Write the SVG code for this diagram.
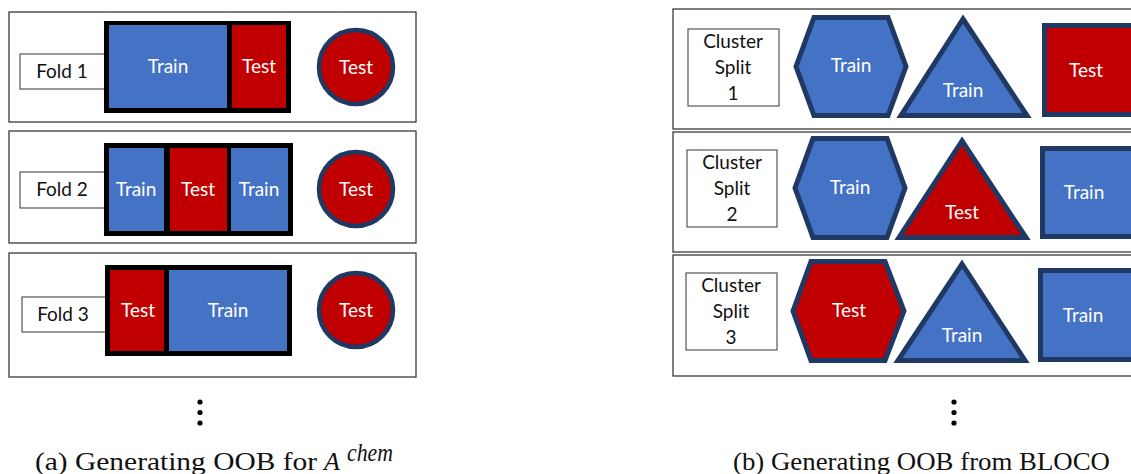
<svg xmlns="http://www.w3.org/2000/svg" width="1131" height="474" viewBox="0 0 1131 474">
<style>
.frame{fill:#fff;stroke:#3a3a3a;stroke-width:1.3}
.lbl{fill:#fff;stroke:#555;stroke-width:1.2}
.blue{fill:#4472C4}
.red{fill:#C00000}
.blk{fill:#000}
.nb{stroke:#1F3864;stroke-width:5;stroke-linejoin:miter}
.circ{fill:#C00000;stroke:#1F3864;stroke-width:4.5}
.t{font-family:Lato,"Open Sans",sans-serif;font-size:19px;text-anchor:middle}
.w{fill:#fff}
.d{fill:#111}
.cap{font-family:"Liberation Serif","DejaVu Serif",serif;font-size:26px;fill:#111}
.dot{fill:#000}
</style>
<rect width="1131" height="474" fill="#fff"/>

<!-- Left panel (a) -->
<g id="fold1">
  <rect class="frame" x="9" y="12" width="407" height="110"/>
  <rect class="lbl" x="20" y="54" width="85" height="35"/>
  <text class="t d" x="62" y="78">Fold 1</text>
  <rect class="blk" x="104" y="21" width="187" height="92"/>
  <rect class="blue" x="109" y="25" width="118" height="83"/>
  <rect class="red" x="232" y="25" width="54" height="83"/>
  <text class="t w" x="168" y="73">Train</text>
  <text class="t w" x="259" y="73">Test</text>
  <circle class="circ" cx="356" cy="67" r="37"/>
  <text class="t w" x="356" y="74">Test</text>
</g>
<g id="fold2">
  <rect class="frame" x="9" y="131" width="407" height="112"/>
  <rect class="lbl" x="20" y="172" width="85" height="36"/>
  <text class="t d" x="62" y="196">Fold 2</text>
  <rect class="blk" x="104" y="143" width="189" height="93"/>
  <rect class="blue" x="109" y="148" width="55" height="83"/>
  <rect class="red" x="170" y="148" width="57" height="83"/>
  <rect class="blue" x="231" y="148" width="57" height="83"/>
  <text class="t w" x="136" y="196">Train</text>
  <text class="t w" x="198" y="196">Test</text>
  <text class="t w" x="259" y="196">Train</text>
  <circle class="circ" cx="356" cy="189" r="37"/>
  <text class="t w" x="356" y="196">Test</text>
</g>
<g id="fold3">
  <rect class="frame" x="9" y="253" width="407" height="124"/>
  <rect class="lbl" x="22" y="297" width="84" height="35"/>
  <text class="t d" x="63" y="321">Fold 3</text>
  <rect class="blk" x="105" y="265" width="187" height="91"/>
  <rect class="red" x="110" y="270" width="54" height="81"/>
  <rect class="blue" x="169" y="270" width="118" height="81"/>
  <text class="t w" x="138" y="317">Test</text>
  <text class="t w" x="228" y="317">Train</text>
  <circle class="circ" cx="356" cy="310" r="37"/>
  <text class="t w" x="356" y="317">Test</text>
</g>
<g id="dots-a">
  <circle class="dot" cx="200" cy="402" r="2.6"/>
  <circle class="dot" cx="200" cy="412.5" r="2.6"/>
  <circle class="dot" cx="200" cy="423" r="2.6"/>
</g>
<g id="caption-a">
  <text class="cap" x="35" y="470" textLength="282" lengthAdjust="spacingAndGlyphs">(a) Generating OOB for</text>
  <text class="cap" x="324" y="470" font-style="italic">A</text>
  <text class="cap" x="347" y="461" font-style="italic" font-size="18" textLength="46" lengthAdjust="spacingAndGlyphs">chem</text>
</g>

<!-- Right panel (b) -->
<g id="split1">
  <rect class="frame" x="673" y="9" width="470" height="120"/>
  <rect class="lbl" x="688" y="29" width="91" height="77"/>
  <text class="t d" x="733" y="48">Cluster</text>
  <text class="t d" x="733" y="74">Split</text>
  <text class="t d" x="733" y="100">1</text>
  <polygon class="blue nb" points="796,66.5 814,17.5 888,17.5 906,66.5 888,115.5 814,115.5"/>
  <text class="t w" x="851" y="72">Train</text>
  <polygon class="blue nb" points="963,19 1027,115.5 901,115.5"/>
  <text class="t w" x="963" y="97">Train</text>
  <rect class="red nb" x="1044.5" y="25.5" width="94" height="89"/>
  <text class="t w" x="1086" y="77">Test</text>
</g>
<g id="split2">
  <rect class="frame" x="673" y="132" width="470" height="120"/>
  <rect class="lbl" x="687" y="150" width="90" height="77"/>
  <text class="t d" x="732" y="169">Cluster</text>
  <text class="t d" x="732" y="195">Split</text>
  <text class="t d" x="732" y="221">2</text>
  <polygon class="blue nb" points="795,188 813,138.5 887,138.5 905,188 887,237.5 813,237.5"/>
  <text class="t w" x="850" y="194">Train</text>
  <polygon class="red nb" points="962,141 1026,237.5 899,237.5"/>
  <text class="t w" x="962" y="219">Test</text>
  <rect class="blue nb" x="1042.5" y="148.5" width="94" height="88"/>
  <text class="t w" x="1084" y="199">Train</text>
</g>
<g id="split3">
  <rect class="frame" x="673" y="255" width="470" height="121"/>
  <rect class="lbl" x="686" y="273" width="91" height="77"/>
  <text class="t d" x="731" y="292">Cluster</text>
  <text class="t d" x="731" y="318">Split</text>
  <text class="t d" x="731" y="344">3</text>
  <polygon class="red nb" points="793,311 811,261.5 885,261.5 904,311 885,360.5 811,360.5"/>
  <text class="t w" x="849" y="317">Test</text>
  <polygon class="blue nb" points="962,264 1025,360.5 898,360.5"/>
  <text class="t w" x="962" y="342">Train</text>
  <rect class="blue nb" x="1040.5" y="270.5" width="94" height="89"/>
  <text class="t w" x="1083" y="322">Train</text>
</g>
<g id="dots-b">
  <circle class="dot" cx="954" cy="402" r="2.6"/>
  <circle class="dot" cx="954" cy="412.5" r="2.6"/>
  <circle class="dot" cx="954" cy="423" r="2.6"/>
</g>
<g id="caption-b">
  <text class="cap" x="733" y="470" textLength="377" lengthAdjust="spacingAndGlyphs">(b) Generating OOB from BLOCO</text>
</g>
<g id="connectors"/>
</svg>
